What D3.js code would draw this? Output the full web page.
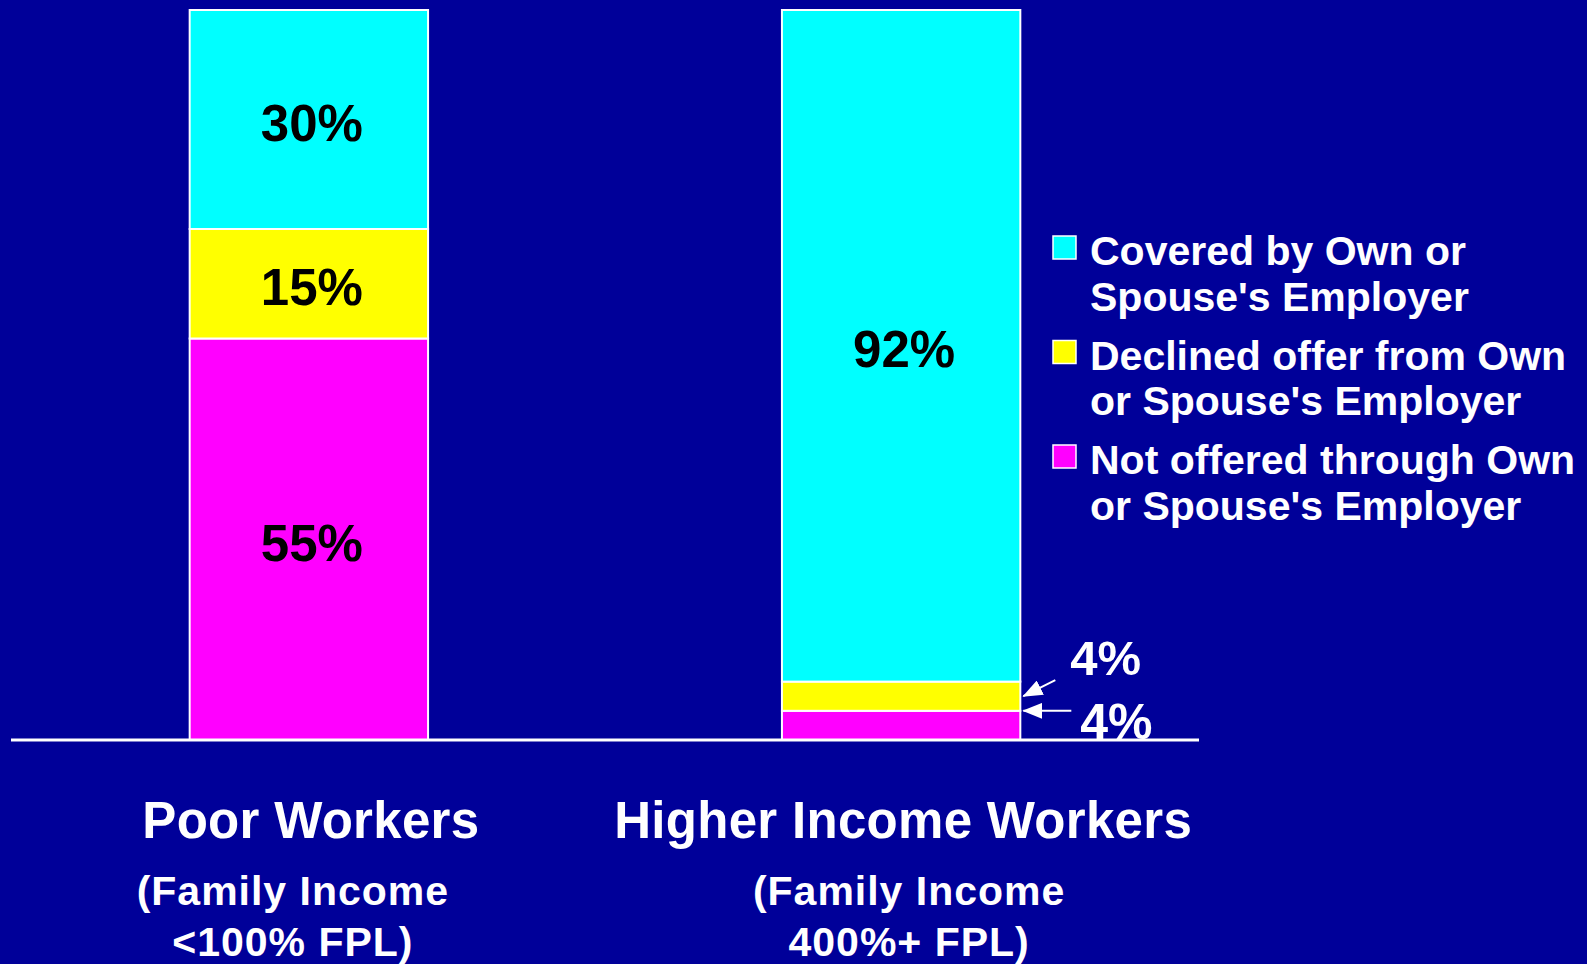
<!DOCTYPE html>
<meta charset="utf-8">
<style>
    body {
        margin: 0;
        background: #000099;
    }
    svg text {
        font-family: "Liberation Sans", Arial, Helvetica, sans-serif;
        font-weight: bold;
    }
</style>
<svg width="1587" height="964"></svg>
<script src="https://cdn.jsdelivr.net/npm/d3@7/dist/d3.min.js"></script>
<script>
    // data
    var groups = ['Poor Workers', 'Higher Income Workers'];
    var subLabels = [['(Family Income', '<100% FPL)'], ['(Family Income', '400%+ FPL)']];
    var keys = ['notOffered', 'declined', 'covered'];   // bottom to top
    var covered = [30, 92];
    var declined = [15, 4];
    var notOffered = [55, 4];
    var legendLabels = [
        ['Covered by Own or', "Spouse's Employer"],
        ['Declined offer from Own', "or Spouse's Employer"],
        ['Not offered through Own', "or Spouse's Employer"]
    ];

    var colors = {covered: '#00ffff', declined: '#ffff00', notOffered: '#ff00ff'};
    var subShift = [-16, 8];

    var svg = d3.select('svg');
    var rows = groups.map(function (g, i) {
        return {group: g, covered: covered[i], declined: declined[i], notOffered: notOffered[i]};
    });

    var x = d3.scaleBand()
        .domain(groups)
        .range([12, 1198])
        .paddingInner(0.5975)
        .paddingOuter(0.3);
    var y = d3.scaleLinear().domain([0, 100]).range([740, 10]);

    var stack = d3.stack().keys(keys);
    var series = stack(rows);

    // bars
    var layer = svg.selectAll('.layer')
        .data(series)
        .enter()
        .append('g')
        .attr('class', 'layer')
        .attr('fill', function (d) { return colors[d.key]; });

    layer.selectAll('rect')
        .data(function (d) { return d; })
        .enter()
        .append('rect')
        .attr('x', function (d) { return x(d.data.group); })
        .attr('y', function (d) { return y(d[1]); })
        .attr('width', x.bandwidth())
        .attr('height', function (d) { return y(d[0]) - y(d[1]); })
        .attr('stroke', '#fff')
        .attr('stroke-width', 2);

    // labels inside big segments
    layer.selectAll('.val')
        .data(function (d) { return d.filter(function (p) { return p[1] - p[0] >= 10; }); })
        .enter()
        .append('text')
        .attr('class', 'val')
        .attr('x', function (d) { return x(d.data.group) + x.bandwidth() / 2 + 3; })
        .attr('y', function (d) { return y((d[0] + d[1]) / 2); })
        .attr('dy', '0.42em')
        .attr('text-anchor', 'middle')
        .attr('font-size', 51)
        .attr('fill', '#000')
        .text(function (d) { return (d[1] - d[0]) + '%'; });

    // baseline
    svg.append('line')
        .attr('x1', x.range()[0] - 1)
        .attr('x2', x.range()[1] + 1)
        .attr('y1', y(0))
        .attr('y2', y(0))
        .attr('stroke', '#fff')
        .attr('stroke-width', 3);

    // arrow annotations for the small segments of the second bar
    svg.append('defs').append('marker')
        .attr('id', 'head')
        .attr('viewBox', '0 0 20 16')
        .attr('refX', 19)
        .attr('refY', 8)
        .attr('markerWidth', 20)
        .attr('markerHeight', 16)
        .attr('markerUnits', 'userSpaceOnUse')
        .attr('orient', 'auto')
        .append('path')
        .attr('d', 'M0,0L20,8L0,16Z')
        .attr('fill', '#fff');

    var g2 = groups[1];
    var right = x(g2) + x.bandwidth() + 3;
    var decMid = y(notOffered[1] + declined[1] / 2);
    var notTop = y(notOffered[1]);

    svg.append('line')
        .attr('x1', right + 32).attr('y1', decMid - 16)
        .attr('x2', right).attr('y2', decMid)
        .attr('stroke', '#fff').attr('stroke-width', 2)
        .attr('marker-end', 'url(#head)');
    svg.append('text')
        .attr('x', right + 47)
        .attr('y', decMid - 21)
        .attr('font-size', 49)
        .attr('fill', '#fff')
        .text(declined[1] + '%');

    svg.append('line')
        .attr('x1', right + 48).attr('y1', notTop)
        .attr('x2', right).attr('y2', notTop)
        .attr('stroke', '#fff').attr('stroke-width', 2)
        .attr('marker-end', 'url(#head)');
    svg.append('text')
        .attr('x', right + 57)
        .attr('y', notTop + 28)
        .attr('font-size', 50)
        .attr('fill', '#fff')
        .text(notOffered[1] + '%');

    // category labels
    var cat = svg.selectAll('.cat')
        .data(groups)
        .enter()
        .append('g')
        .attr('class', 'cat');
    cat.append('text')
        .attr('x', function (d) { return x(d) + x.bandwidth() / 2 + 2; })
        .attr('y', 838)
        .attr('text-anchor', 'middle')
        .attr('font-size', 51)
        .attr('letter-spacing', 0.3)
        .attr('fill', '#fff')
        .text(function (d) { return d; });
    cat.each(function (d, i) {
        d3.select(this).selectAll('.sub')
            .data(subLabels[i])
            .enter()
            .append('text')
            .attr('class', 'sub')
            .attr('x', x(d) + x.bandwidth() / 2 + subShift[i])
            .attr('y', function (s, j) { return 905 + j * 51; })
            .attr('text-anchor', 'middle')
            .attr('font-size', 41)
            .attr('letter-spacing', 1)
            .attr('fill', '#fff')
            .text(function (s) { return s; });
    });

    // legend (top to bottom: covered, declined, not offered)
    var legendKeys = keys.slice().reverse();
    var legend = svg.selectAll('.legend')
        .data(legendKeys)
        .enter()
        .append('g')
        .attr('class', 'legend')
        .attr('transform', function (d, i) { return 'translate(1053,' + (265 + i * 104.5) + ')'; });
    legend.append('rect')
        .attr('x', 0)
        .attr('y', -29)
        .attr('width', 23)
        .attr('height', 23)
        .attr('fill', function (d) { return colors[d]; })
        .attr('stroke', '#fff')
        .attr('stroke-width', 1.5);
    legend.each(function (d, i) {
        d3.select(this).selectAll('text')
            .data(legendLabels[i])
            .enter()
            .append('text')
            .attr('x', 37)
            .attr('y', function (s, j) { return j * 45.5; })
            .attr('font-size', 41)
            .attr('fill', '#fff')
            .text(function (s) { return s; });
    });
</script>
